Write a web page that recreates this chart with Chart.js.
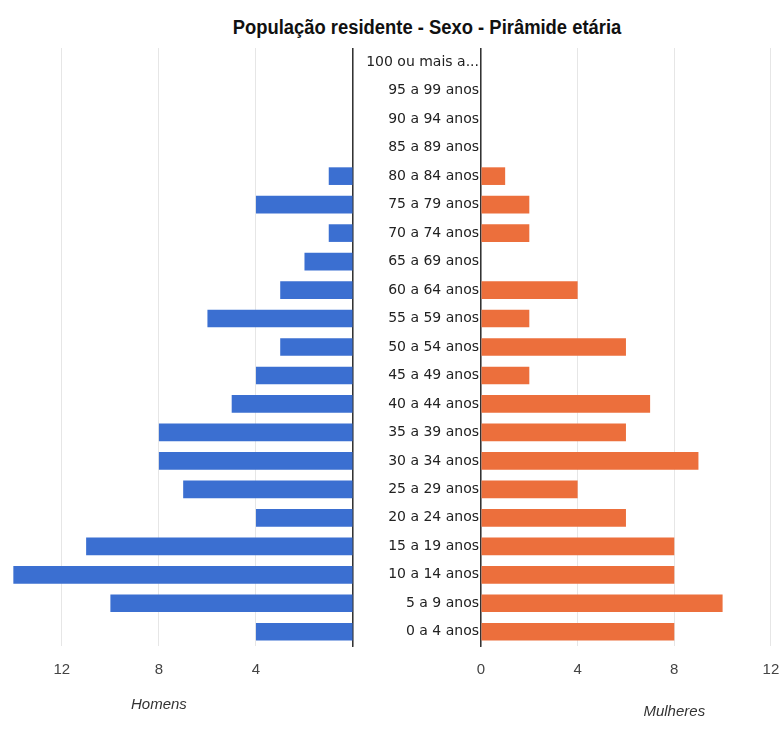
<!DOCTYPE html>
<html lang="pt">
<head>
  <meta charset="UTF-8">
  <title>População residente - Sexo - Pirâmide etária</title>
  <script src="https://cdn.jsdelivr.net/npm/chart.js"></script>
  <style>
    body { margin: 0; background: #fff; overflow: hidden; }
    #titulo {
      position: absolute; left: 427px; top: 16px; transform: translateX(-50%) scaleX(0.92);
      white-space: nowrap; font: bold 20px "Liberation Sans", Arial, sans-serif;
      color: #111;
    }
    #esq { position: absolute; left: 0; top: 48px; }
    #dir { position: absolute; left: 355px; top: 48px; }
  </style>
</head>
<body>
<div id="titulo">População residente - Sexo - Pirâmide etária</div>
<canvas id="esq" width="354" height="700"></canvas>
<canvas id="dir" width="428" height="700"></canvas>

<script>
  // faixas etárias, de cima para baixo
  const faixas = ['100 ou mais a...', '95 a 99 anos', '90 a 94 anos', '85 a 89 anos',
    '80 a 84 anos', '75 a 79 anos', '70 a 74 anos', '65 a 69 anos', '60 a 64 anos',
    '55 a 59 anos', '50 a 54 anos', '45 a 49 anos', '40 a 44 anos', '35 a 39 anos',
    '30 a 34 anos', '25 a 29 anos', '20 a 24 anos', '15 a 19 anos', '10 a 14 anos',
    '5 a 9 anos', '0 a 4 anos'];
  const homens   = [0, 0, 0, 0, 1, 4, 1, 2, 3, 6, 3, 4, 5, 8, 8, 7, 4, 11, 14, 10, 4];
  const mulheres = [0, 0, 0, 0, 1, 2, 2, 0, 4, 2, 6, 2, 7, 6, 9, 4, 6, 8, 8, 10, 8];

  const fonteNum = { family: '"Liberation Sans", Arial, sans-serif', size: 15 };
  const corGrade = '#e6e6e6';
  const corEixo = '#333';

  // rótulo em itálico sob o eixo x, centrado num valor da escala
  const rotuloEixo = {
    id: 'rotuloEixo',
    afterDraw(chart, args, opts) {
      const c = chart.ctx;
      const x = chart.scales.x.getPixelForValue(opts.valor);
      c.save();
      c.font = 'italic 15px "Liberation Sans", Arial, sans-serif';
      c.fillStyle = '#333';
      c.textAlign = 'center';
      c.textBaseline = 'middle';
      c.fillText(opts.texto, x, chart.chartArea.bottom + opts.dy);
      c.restore();
    }
  };

  function eixoX(max, reverso) {
    return {
      min: 0, max: max, reverse: reverso,
      grid: { color: corGrade, drawTicks: false },
      border: { display: false },
      ticks: {
        stepSize: 4, includeBounds: false, padding: 15,
        color: '#444', font: fonteNum,
        callback: v => (reverso && v === 0) ? '' : v
      },
      afterFit: s => { s.height = 102; s.paddingLeft = 0; s.paddingRight = 0; }
    };
  }

  // Homens: escala invertida, eixo à direita sem rótulos
  new Chart(document.getElementById('esq'), {
    type: 'bar',
    data: {
      labels: faixas,
      datasets: [{ label: 'Homens', data: homens, backgroundColor: '#3b6fd1',
        barPercentage: 0.62, categoryPercentage: 1 }]
    },
    options: {
      indexAxis: 'y', responsive: false, animation: false,
      layout: { padding: 0 },
      plugins: { legend: { display: false }, tooltip: { enabled: false },
        rotuloEixo: { texto: 'Homens', valor: 8, dy: 59 } },
      scales: {
        x: eixoX(14.55, true),
        y: {
          position: 'right',
          grid: { display: false },
          border: { color: corEixo, width: 1.5 },
          ticks: { display: false },
          afterFit: s => { s.width = 1; s.paddingTop = 0; s.paddingBottom = 0; }
        }
      }
    },
    plugins: [rotuloEixo]
  });

  // Mulheres: rótulos das faixas à esquerda
  new Chart(document.getElementById('dir'), {
    type: 'bar',
    data: {
      labels: faixas,
      datasets: [{ label: 'Mulheres', data: mulheres, backgroundColor: '#ec6f3c',
        barPercentage: 0.62, categoryPercentage: 1 }]
    },
    options: {
      indexAxis: 'y', responsive: false, animation: false,
      layout: { padding: 0 },
      plugins: { legend: { display: false }, tooltip: { enabled: false },
        rotuloEixo: { texto: 'Mulheres', valor: 8, dy: 66 } },
      scales: {
        x: eixoX(12.5, false),
        y: {
          grid: { display: false, drawTicks: false },
          border: { color: corEixo, width: 1.5 },
          ticks: { color: '#222', padding: 2,
            font: { family: '"DejaVu Sans", Verdana, sans-serif', size: 14 } },
          afterFit: s => { s.width = 126; s.paddingTop = 0; s.paddingBottom = 0; }
        }
      }
    },
    plugins: [rotuloEixo]
  });
</script>
</body>
</html>
